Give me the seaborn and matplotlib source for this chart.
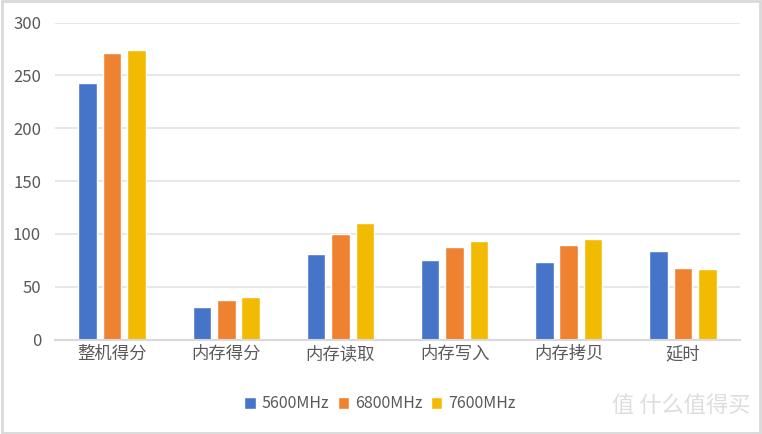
import matplotlib
matplotlib.use("Agg")
import matplotlib.pyplot as plt
import seaborn as sns
import pandas as pd

categories = ["整机得分", "内存得分", "内存读取", "内存写入", "内存拷贝", "延时"]
series_names = ["5600MHz", "6800MHz", "7600MHz"]
v5600 = [243, 31, 81, 75, 73, 84]
v6800 = [271, 37.5, 100, 87.5, 89.5, 68]
v7600 = [274, 40.5, 110, 93, 95, 67]
y_ticks = [0, 50, 100, 150, 200, 250, 300]
colors = ["#4674C9", "#EF8230", "#F3BA02"]

rows = []
for name, vals in zip(series_names, [v5600, v6800, v7600]):
    for c, v in zip(categories, vals):
        rows.append({"cat": c, "series": name, "value": v})
df = pd.DataFrame(rows)

sns.set_theme(style="white")
plt.rcParams['font.family'] = ['Noto Sans CJK SC', 'DejaVu Sans']

fig = plt.figure(figsize=(7.62, 4.34), dpi=100)
ax = fig.add_axes([55/762, 1-339.5/434, 685/762, 317/434])

sns.barplot(data=df, x="cat", y="value", hue="series", order=categories,
            hue_order=series_names, palette=colors, width=0.64, gap=0.24,
            saturation=1, ax=ax, legend=True)

ax.set_ylim(0, 300)
ax.set_xlim(-0.5, len(categories) - 0.5)
ax.set_yticks(y_ticks)
ax.set_xlabel("")
ax.set_ylabel("")
ax.yaxis.grid(True, color="#E3E3E3", linewidth=1.2)
ax.set_axisbelow(True)
for s in ["top", "right", "left"]:
    ax.spines[s].set_visible(False)
ax.spines["bottom"].set_color("#D9D9D9")
ax.spines["bottom"].set_linewidth(1.5)
ax.tick_params(axis="both", length=0, colors="#595959")
ax.tick_params(axis="y", pad=10, labelsize=12)
ax.tick_params(axis="x", pad=4, labelsize=12.5)

handles, labels = ax.get_legend_handles_labels()
ax.legend_.remove()
fig.legend(handles, labels, loc="center", bbox_to_anchor=(380/762, 1-404/434),
           ncol=3, frameon=False, fontsize=11.5, handlelength=0.7, handleheight=0.7,
           handletextpad=0.4, columnspacing=0.5, labelcolor="#595959")

fig.text(0.985, 0.065, "值 什么值得买", ha="right", va="center", fontsize=16,
         color="#DDDDDD")

border = plt.Rectangle((0.002, 0.003), 0.996, 0.994, transform=fig.transFigure,
                       fill=False, edgecolor="#D9D9D9", linewidth=2)
fig.patches.append(border)

fig.savefig("out.png", dpi=100)
